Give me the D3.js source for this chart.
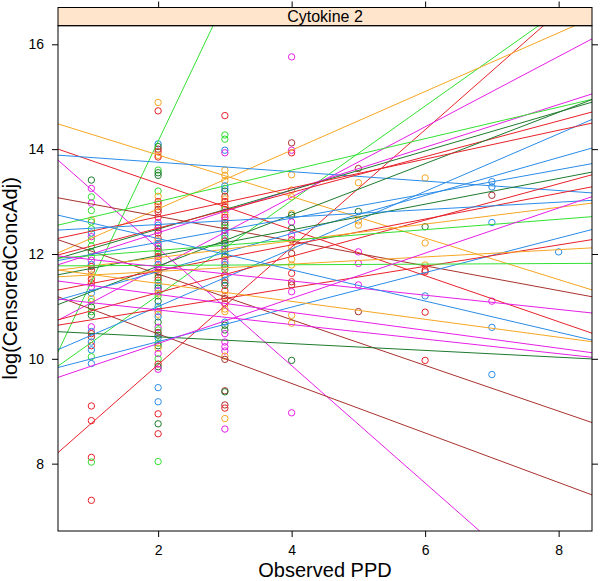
<!DOCTYPE html>
<html><head><meta charset="utf-8">
<script src="https://cdn.jsdelivr.net/npm/d3@7"></script>
<style>body{margin:0;background:#fff}svg{display:block}text{font-family:"Liberation Sans",Arial,sans-serif}</style>
</head><body><svg id="c" width="600" height="581"></svg>
<script>
// ---- data ----
const palette = ["#E8212A", "#1E7A2E", "#2A8CE8", "#F6A623", "#E61FE6", "#33E033", "#A8322E"];
const stripLabel = "Cytokine 2";
const xTicks = [2, 4, 6, 8];
const yTicks = [8, 10, 12, 14, 16];
const xDomain = [0.5, 8.5];
const yDomain = [6.715, 16.355];

// observations per PPD value: log concentrations and group colour index
const ppd1 = [13.41,13.25,13.09,12.97,12.83,12.65,12.61,12.48,12.40,12.33,12.27,12.15,12.04,11.95,11.88,11.80,11.76,11.69,11.60,11.52,11.45,11.37,11.25,11.15,11.09,10.99,10.90,10.83,10.61,10.52,10.48,10.42,10.32,10.25,10.17,10.04,9.91,9.10,8.82,8.12,8.03,7.30];
const ppd1g = [1,4,5,4,5,3,5,5,2,4,5,5,1,5,4,2,0,6,3,0,0,4,2,3,5,1,5,1,4,2,0,6,2,0,2,5,2,0,0,0,5,0];
const ppd2 = [14.89,14.73,14.10,14.05,14.00,13.95,13.88,13.85,13.60,13.55,13.50,13.20,13.10,13.00,12.95,12.90,12.85,12.80,12.70,12.60,12.55,12.50,12.45,12.40,12.30,12.25,12.20,12.15,12.10,12.05,12.00,11.95,11.90,11.85,11.80,11.75,11.70,11.65,11.60,11.55,11.50,11.45,11.40,11.35,11.30,11.25,11.20,11.10,11.00,10.95,10.90,10.85,10.80,10.70,10.60,10.55,10.50,10.45,10.40,10.30,10.25,10.20,10.10,10.00,9.90,9.85,9.80,9.45,9.18,8.95,8.76,8.57,8.04];
const ppd2g = [3,0,2,1,6,0,3,0,5,1,1,5,3,0,0,3,6,0,0,4,2,0,4,6,0,3,2,4,1,0,5,0,4,3,2,0,4,6,3,1,0,5,2,1,4,3,5,1,2,5,4,3,2,1,4,5,6,1,2,5,1,3,4,5,0,1,4,2,2,0,1,0,5];
const ppd3 = [14.64,14.27,14.19,13.98,13.93,13.60,13.50,13.40,13.30,13.25,13.20,13.10,13.05,13.00,12.95,12.90,12.85,12.80,12.75,12.70,12.65,12.60,12.55,12.50,12.45,12.40,12.35,12.30,12.25,12.20,12.15,12.10,12.05,12.00,11.95,11.90,11.85,11.80,11.75,11.70,11.60,11.55,11.50,11.45,11.40,11.30,11.20,11.15,11.05,10.95,10.90,10.70,10.64,10.55,10.48,10.32,10.23,10.15,10.05,9.99,9.39,9.37,9.12,9.06,8.86,8.66];
const ppd3g = [0,5,5,2,4,3,3,3,2,2,1,0,3,0,3,0,5,4,3,0,4,6,1,5,6,4,2,5,0,1,2,4,6,5,1,3,4,2,6,5,0,3,2,6,1,0,3,6,0,3,3,2,1,1,4,4,4,4,3,6,6,1,6,0,3,4];
const ppd4 = [15.76,14.12,13.98,13.93,13.51,13.22,13.09,12.77,12.74,12.61,12.49,12.36,12.27,12.14,12.01,11.90,11.79,11.63,11.47,11.41,11.28,10.83,10.68,9.97,8.97];
const ppd4g = [4,6,4,0,3,3,3,3,1,4,1,4,0,3,6,3,3,0,0,6,4,3,3,1,4];
const ppd5 = [13.63,13.36,12.81,12.63,12.55,12.04,11.82,11.41,10.90];
const ppd5g = [6,3,1,3,3,4,4,4,6];
const ppd6 = [13.45,12.52,12.21,11.79,11.69,11.66,11.20,10.89,9.97];
const ppd6g = [3,1,3,3,0,0,2,0,0];
const ppd7 = [13.38,13.28,13.12,12.60,11.10,10.60,9.70];
const ppd7g = [2,2,6,2,4,2,2];
const ppd8 = [12.04];
const ppd8g = [2];

// per-subject regression fits: intercept, slope, group colour index
const fitIntercept = [8.79,7.65,9.41,11.74,10.40,14.68,14.22,13.93,14.35,11.42,12.49,10.55,13.19,11.59,12.40,11.73,11.81,10.79,9.90,12.16,10.94,11.76,11.48,10.57,11.19,12.42,11.61,11.87,9.67,10.54,11.53,11.77,12.03,12.89,11.78,11.57,11.21,9.43];
const fitSlope     = [2.68,1.12,0.902,0.560,0.671,-0.396,-0.439,-0.09,-1.12,-0.4725,-0.436,-0.065,-0.236,0.4075,0.30,0.3725,0.341,0.489,0.549,0.275,0.3625,0.231,0.245,0.346,0.246,0.071,0.16,0.099,0.329,0.204,0.069,0.006,-0.136,-0.298,-0.171,-0.171,-0.139,0.431];
const fitGroup     = [5,0,5,3,4,3,0,2,4,6,6,1,6,4,5,1,0,1,2,0,2,2,1,0,0,2,3,5,2,0,3,5,4,2,3,4,4,4];

// ---- drawing ----
const L = 58, R = 592, T = 25.7, B = 531, stripTop = 7.5;
const svg = d3.select("#c");
const x = d3.scaleLinear().domain(xDomain).range([L, R]);
const y = d3.scaleLinear().domain(yDomain).range([B, T]);

svg.append("defs").append("clipPath").attr("id", "clip")
  .append("rect").attr("x", L).attr("y", T).attr("width", R - L).attr("height", B - T);

const cols = [[1,ppd1,ppd1g],[2,ppd2,ppd2g],[3,ppd3,ppd3g],[4,ppd4,ppd4g],[5,ppd5,ppd5g],[6,ppd6,ppd6g],[7,ppd7,ppd7g],[8,ppd8,ppd8g]];
const pts = [];
cols.forEach(([px, vals, grp]) => vals.forEach((v, i) => pts.push({x: px, y: v, g: grp[i]})));

const plot = svg.append("g").attr("clip-path", "url(#clip)");
plot.selectAll("circle").data(pts).enter().append("circle")
  .attr("cx", d => x(d.x)).attr("cy", d => y(d.y)).attr("r", 3.2)
  .attr("fill", "none").attr("stroke", d => palette[d.g]).attr("stroke-width", 1);

const fits = fitIntercept.map((a, i) => ({a, b: fitSlope[i], g: fitGroup[i]}));
plot.selectAll("line.fit").data(fits).enter().append("line").attr("class", "fit")
  .attr("x1", x(xDomain[0])).attr("x2", x(xDomain[1]))
  .attr("y1", d => y(d.a + d.b * xDomain[0])).attr("y2", d => y(d.a + d.b * xDomain[1]))
  .attr("stroke", d => palette[d.g]).attr("stroke-width", 1);

// strip
svg.append("rect").attr("x", L).attr("y", stripTop).attr("width", R - L).attr("height", T - stripTop)
  .attr("fill", "#FFE5CC").attr("stroke", "#000").attr("stroke-width", 1);
svg.append("text").attr("x", (L + R) / 2).attr("y", 21.8).attr("text-anchor", "middle")
  .attr("font-size", 16).text(stripLabel);

// panel border
svg.append("rect").attr("x", L).attr("y", T).attr("width", R - L).attr("height", B - T)
  .attr("fill", "none").attr("stroke", "#000").attr("stroke-width", 1);

// axes
const fmt = d3.format("d");
const ax = (g) => { g.select(".domain").remove(); g.selectAll("line").attr("stroke", "#000"); g.selectAll("text").attr("font-size", 14).attr("fill", "#000").attr("font-family", '"Liberation Sans",Arial,sans-serif'); };
svg.append("g").attr("transform", `translate(${L},0)`)
  .call(d3.axisLeft(y).tickValues(yTicks).tickFormat(fmt).tickSize(6).tickPadding(8)).call(ax);
svg.append("g").attr("transform", `translate(${R},0)`)
  .call(d3.axisRight(y).tickValues(yTicks).tickFormat("").tickSize(6)).call(ax);
svg.append("g").attr("transform", `translate(0,${B})`)
  .call(d3.axisBottom(x).tickValues(xTicks).tickFormat(fmt).tickSize(6).tickPadding(8)).call(ax);
svg.append("g").attr("transform", `translate(0,${stripTop})`)
  .call(d3.axisTop(x).tickValues(xTicks).tickFormat("").tickSize(6)).call(ax);

// titles
svg.append("text").attr("x", (L + R) / 2).attr("y", 577).attr("text-anchor", "middle")
  .attr("font-size", 20).text("Observed PPD");
svg.append("text").attr("transform", `translate(16.5,${(T + B) / 2}) rotate(-90)`)
  .attr("text-anchor", "middle").attr("font-size", 20).text("log(CensoredConcAdj)");
</script></body></html>
